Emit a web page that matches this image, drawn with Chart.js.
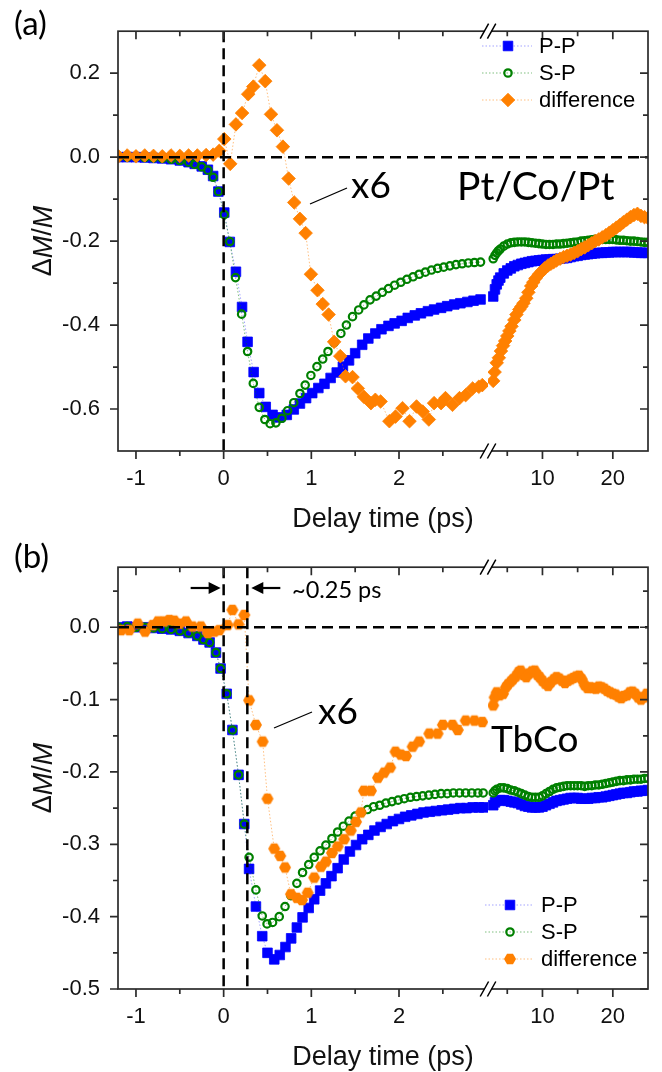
<!DOCTYPE html>
<html>
<head>
<meta charset="utf-8">
<script src="https://cdn.jsdelivr.net/npm/chart.js@4.4.1/dist/chart.umd.min.js"></script>
<style>
  html, body { margin: 0; padding: 0; background: #fff; }
  #wrap { position: relative; width: 662px; height: 1072px; }
  canvas { position: absolute; left: 0; }
  #cA { top: 0; }
  #cB { top: 536px; }
</style>
</head>
<body>
<div id="wrap">
  <canvas id="cA" width="662" height="536"></canvas>
  <canvas id="cB" width="662" height="536"></canvas>
</div>
<script>
// ---- axis ranges / ticks (broken x axis: fast part + slow part) ----
const xFastRange = [-1.205, 3.015];
const xSlowRange = [2.26, 25];
const xFastMajor = [-1, 0, 1, 2], xFastMinor = [-0.5, 0.5, 1.5, 2.5];
const xSlowMajor = [10, 20], xSlowMinor = [5, 15];
const aYMajor = [0.2, 0, -0.2, -0.4, -0.6], aYMinor = [0.1, -0.1, -0.3, -0.5];
const bYMajor = [0, -0.1, -0.2, -0.3, -0.4, -0.5], bYMinor = [0.05, -0.05, -0.15, -0.25, -0.35, -0.45];
const seriesNames = ['P-P', 'S-P', 'difference'];

// ---- (a) Pt/Co/Pt : [delay ps, dM/M] ----
const aPPfast = [[-1.2,0],[-1.1,0],[-1.0,0],[-0.9,-0.001],[-0.8,-0.002],[-0.7,-0.003],[-0.6,-0.005],[-0.5,-0.008],[-0.4,-0.012],[-0.33,-0.016],[-0.25,-0.022],[-0.18,-0.03],[-0.12,-0.045],[-0.06,-0.082],[0.007,-0.132],[0.07,-0.202],[0.14,-0.273],[0.21,-0.357],[0.273,-0.44],[0.342,-0.512],[0.406,-0.562],[0.48,-0.595],[0.558,-0.614],[0.634,-0.62],[0.72,-0.614],[0.80,-0.601],[0.87,-0.587],[0.94,-0.574],[1.01,-0.562],[1.08,-0.55],[1.15,-0.54],[1.22,-0.526],[1.29,-0.513],[1.36,-0.499],[1.43,-0.484],[1.50,-0.467],[1.58,-0.447],[1.65,-0.432],[1.73,-0.42],[1.80,-0.41],[1.88,-0.402],[1.95,-0.396],[2.03,-0.39],[2.10,-0.383],[2.18,-0.377],[2.25,-0.372],[2.33,-0.367],[2.40,-0.363],[2.48,-0.359],[2.55,-0.355],[2.63,-0.351],[2.70,-0.348],[2.78,-0.345],[2.85,-0.342],[2.93,-0.339]];
const aPPslow = [[3.0,-0.332],[3.25,-0.315],[3.5,-0.303],[3.75,-0.294],[4.0,-0.287],[4.5,-0.277],[5.0,-0.27],[5.5,-0.265],[6.0,-0.26],[6.5,-0.257],[7.0,-0.254],[7.5,-0.252],[8.0,-0.25],[8.5,-0.248],[9.0,-0.247],[9.5,-0.246],[10,-0.245],[10.5,-0.244],[11,-0.244],[11.5,-0.243],[12,-0.243],[12.5,-0.242],[13,-0.241],[13.5,-0.24],[14,-0.238],[14.5,-0.236],[15,-0.235],[15.5,-0.233],[16,-0.232],[16.5,-0.231],[17,-0.23],[17.5,-0.229],[18,-0.228],[18.5,-0.228],[19,-0.227],[19.5,-0.227],[20,-0.226],[20.5,-0.226],[21,-0.226],[21.5,-0.226],[22,-0.226],[22.5,-0.226],[23,-0.227],[23.5,-0.227],[24,-0.228],[24.5,-0.228],[25,-0.228]];
const aSPfast = [[-1.2,0],[-1.1,0],[-1.0,0],[-0.9,-0.001],[-0.8,-0.002],[-0.7,-0.003],[-0.6,-0.005],[-0.5,-0.008],[-0.4,-0.012],[-0.33,-0.017],[-0.25,-0.023],[-0.18,-0.031],[-0.12,-0.048],[-0.06,-0.082],[0.007,-0.137],[0.07,-0.201],[0.135,-0.287],[0.205,-0.374],[0.273,-0.463],[0.338,-0.539],[0.406,-0.596],[0.47,-0.625],[0.53,-0.635],[0.596,-0.633],[0.665,-0.622],[0.73,-0.604],[0.80,-0.585],[0.87,-0.563],[0.93,-0.543],[0.995,-0.52],[1.064,-0.499],[1.13,-0.481],[1.19,-0.463],[1.26,-0.442],[1.337,-0.42],[1.40,-0.40],[1.47,-0.38],[1.54,-0.364],[1.60,-0.352],[1.67,-0.34],[1.74,-0.331],[1.81,-0.322],[1.88,-0.313],[1.95,-0.305],[2.02,-0.298],[2.09,-0.291],[2.16,-0.285],[2.23,-0.279],[2.30,-0.274],[2.37,-0.269],[2.44,-0.265],[2.51,-0.262],[2.58,-0.259],[2.65,-0.256],[2.72,-0.254],[2.79,-0.252],[2.86,-0.251],[2.93,-0.25]];
const aSPslow = [[3.0,-0.242],[3.25,-0.234],[3.5,-0.228],[3.75,-0.223],[4.0,-0.219],[4.5,-0.212],[5.0,-0.207],[5.5,-0.204],[6.0,-0.203],[6.5,-0.202],[7.0,-0.202],[7.5,-0.202],[8.0,-0.203],[8.5,-0.204],[9.0,-0.205],[9.5,-0.206],[10,-0.207],[10.5,-0.208],[11,-0.208],[11.5,-0.208],[12,-0.207],[12.5,-0.207],[13,-0.206],[13.5,-0.205],[14,-0.204],[14.5,-0.203],[15,-0.202],[15.5,-0.2],[16,-0.199],[16.5,-0.198],[17,-0.197],[17.5,-0.196],[18,-0.196],[18.5,-0.196],[19,-0.196],[19.5,-0.196],[20,-0.196],[20.5,-0.197],[21,-0.198],[21.5,-0.198],[22,-0.199],[22.5,-0.2],[23,-0.2],[23.5,-0.201],[24,-0.202],[24.5,-0.203],[25,-0.203]];
const aDiffFast = [[-1.2,0.002],[-1.1,0.004],[-1.0,0.002],[-0.9,0.004],[-0.8,0.003],[-0.7,0.002],[-0.6,0.004],[-0.5,0.003],[-0.4,0.004],[-0.3,0.004],[-0.2,0.005],[-0.12,0.006],[-0.05,0.015],[0.007,0.043],[0.075,-0.016],[0.14,0.078],[0.21,0.105],[0.28,0.15],[0.338,0.168],[0.406,0.219],[0.474,0.181],[0.54,0.102],[0.608,0.064],[0.676,0.025],[0.741,-0.051],[0.805,-0.108],[0.87,-0.147],[0.935,-0.181],[0.995,-0.279],[1.07,-0.317],[1.13,-0.35],[1.197,-0.375],[1.26,-0.44],[1.33,-0.474],[1.39,-0.522],[1.47,-0.524],[1.53,-0.551],[1.60,-0.571],[1.68,-0.586],[1.73,-0.578],[1.79,-0.582],[1.89,-0.629],[1.96,-0.618],[2.04,-0.598],[2.12,-0.629],[2.20,-0.594],[2.27,-0.606],[2.34,-0.625],[2.40,-0.586],[2.48,-0.586],[2.53,-0.574],[2.61,-0.59],[2.69,-0.574],[2.76,-0.567],[2.84,-0.551],[2.91,-0.547],[2.95,-0.543]];
const aDiffSlow = [[3.0,-0.533],[3.2,-0.512],[3.5,-0.49],[3.8,-0.478],[4.1,-0.462],[4.4,-0.449],[4.7,-0.438],[5.0,-0.426],[5.3,-0.414],[5.6,-0.403],[6.0,-0.388],[6.3,-0.375],[6.7,-0.363],[7.0,-0.356],[7.3,-0.348],[7.7,-0.336],[8.0,-0.322],[8.4,-0.307],[8.7,-0.298],[9.0,-0.289],[9.5,-0.279],[9.9,-0.272],[10.3,-0.265],[10.8,-0.258],[11.2,-0.254],[11.6,-0.25],[12.0,-0.246],[12.5,-0.242],[13.0,-0.238],[13.5,-0.235],[14.0,-0.232],[14.5,-0.228],[15.0,-0.224],[15.5,-0.219],[16.0,-0.215],[16.5,-0.21],[17.0,-0.205],[17.5,-0.2],[18.0,-0.196],[18.5,-0.191],[19.0,-0.186],[19.5,-0.18],[20.0,-0.174],[20.5,-0.168],[21.0,-0.162],[21.5,-0.155],[22.0,-0.149],[22.5,-0.143],[23.0,-0.138],[23.5,-0.135],[24.0,-0.14],[24.5,-0.143],[25.0,-0.145]];

// ---- (b) TbCo ----
const bPPfast = [[-1.2,0],[-1.1,0.001],[-1.0,0],[-0.9,0],[-0.8,-0.001],[-0.7,-0.002],[-0.6,-0.003],[-0.5,-0.005],[-0.4,-0.008],[-0.3,-0.012],[-0.23,-0.017],[-0.16,-0.021],[-0.088,-0.035],[-0.035,-0.057],[0.035,-0.092],[0.10,-0.142],[0.17,-0.204],[0.235,-0.272],[0.29,-0.334],[0.368,-0.386],[0.44,-0.427],[0.50,-0.45],[0.577,-0.459],[0.64,-0.453],[0.705,-0.442],[0.77,-0.43],[0.835,-0.415],[0.90,-0.401],[0.97,-0.388],[1.033,-0.376],[1.10,-0.364],[1.166,-0.354],[1.23,-0.344],[1.30,-0.333],[1.37,-0.321],[1.44,-0.31],[1.51,-0.301],[1.58,-0.293],[1.65,-0.287],[1.72,-0.281],[1.79,-0.276],[1.86,-0.272],[1.93,-0.268],[2.00,-0.265],[2.07,-0.262],[2.14,-0.26],[2.21,-0.258],[2.28,-0.256],[2.35,-0.255],[2.42,-0.254],[2.49,-0.253],[2.56,-0.252],[2.63,-0.251],[2.70,-0.25],[2.77,-0.25],[2.84,-0.249],[2.91,-0.249],[2.97,-0.249]];
const bPPslow = [[3.0,-0.246],[3.25,-0.242],[3.5,-0.24],[4.0,-0.239],[4.5,-0.239],[5.0,-0.24],[5.5,-0.241],[6.0,-0.242],[6.5,-0.243],[7.0,-0.245],[7.5,-0.247],[8.0,-0.248],[8.5,-0.249],[9.0,-0.249],[9.5,-0.249],[10,-0.248],[10.5,-0.246],[11,-0.244],[11.5,-0.242],[12,-0.24],[12.5,-0.239],[13,-0.238],[13.5,-0.237],[14,-0.236],[14.5,-0.236],[15,-0.236],[15.5,-0.237],[16,-0.237],[16.5,-0.237],[17,-0.236],[17.5,-0.236],[18,-0.235],[18.5,-0.235],[19,-0.234],[19.5,-0.233],[20,-0.232],[20.5,-0.231],[21,-0.23],[21.5,-0.229],[22,-0.229],[22.5,-0.228],[23,-0.227],[23.5,-0.227],[24,-0.226],[24.5,-0.226],[25,-0.225]];
const bSPfast = [[-1.2,0],[-1.1,0.001],[-1.0,0],[-0.9,0],[-0.8,-0.001],[-0.7,-0.002],[-0.6,-0.003],[-0.5,-0.005],[-0.4,-0.008],[-0.3,-0.012],[-0.23,-0.017],[-0.16,-0.021],[-0.088,-0.035],[-0.035,-0.057],[0.035,-0.092],[0.10,-0.142],[0.17,-0.204],[0.235,-0.272],[0.29,-0.318],[0.368,-0.363],[0.44,-0.399],[0.495,-0.41],[0.558,-0.408],[0.634,-0.40],[0.70,-0.386],[0.767,-0.371],[0.835,-0.354],[0.90,-0.339],[0.97,-0.328],[1.033,-0.318],[1.10,-0.309],[1.166,-0.301],[1.235,-0.292],[1.30,-0.283],[1.365,-0.275],[1.43,-0.268],[1.50,-0.261],[1.57,-0.256],[1.64,-0.252],[1.71,-0.248],[1.78,-0.246],[1.85,-0.243],[1.92,-0.241],[1.99,-0.239],[2.06,-0.237],[2.13,-0.235],[2.20,-0.234],[2.27,-0.233],[2.34,-0.232],[2.41,-0.231],[2.48,-0.23],[2.55,-0.23],[2.62,-0.229],[2.69,-0.229],[2.76,-0.229],[2.83,-0.229],[2.90,-0.229],[2.96,-0.229]];
const bSPslow = [[3.0,-0.229],[3.25,-0.226],[3.5,-0.224],[4.0,-0.222],[4.5,-0.222],[5.0,-0.223],[5.5,-0.225],[6.0,-0.226],[6.5,-0.228],[7.0,-0.23],[7.5,-0.232],[8.0,-0.234],[8.5,-0.235],[9.0,-0.235],[9.5,-0.235],[10,-0.233],[10.5,-0.23],[11,-0.227],[11.5,-0.224],[12,-0.222],[12.5,-0.221],[13,-0.22],[13.5,-0.219],[14,-0.219],[14.5,-0.219],[15,-0.219],[15.5,-0.219],[16,-0.22],[16.5,-0.219],[17,-0.219],[17.5,-0.218],[18,-0.218],[18.5,-0.217],[19,-0.216],[19.5,-0.215],[20,-0.214],[20.5,-0.213],[21,-0.212],[21.5,-0.212],[22,-0.211],[22.5,-0.211],[23,-0.21],[23.5,-0.21],[24,-0.21],[24.5,-0.209],[25,-0.209]];
const bDiffFast = [[-1.17,-0.004],[-1.076,-0.004],[-0.98,0.005],[-0.897,-0.006],[-0.81,0.003],[-0.75,0.008],[-0.68,0.008],[-0.62,0.01],[-0.563,0.009],[-0.506,0.005],[-0.43,0.008],[-0.354,0.001],[-0.26,0.001],[-0.18,-0.008],[-0.107,-0.006],[-0.05,-0.004],[0.045,0.003],[0.10,0.024],[0.17,0.004],[0.235,0.017],[0.29,-0.101],[0.368,-0.135],[0.445,-0.158],[0.50,-0.237],[0.577,-0.306],[0.645,-0.316],[0.70,-0.332],[0.767,-0.369],[0.835,-0.374],[0.893,-0.377],[0.958,-0.367],[1.033,-0.346],[1.11,-0.331],[1.166,-0.324],[1.235,-0.312],[1.30,-0.303],[1.375,-0.293],[1.45,-0.281],[1.51,-0.269],[1.565,-0.256],[1.60,-0.226],[1.68,-0.226],[1.76,-0.208],[1.83,-0.201],[1.90,-0.194],[1.96,-0.172],[2.02,-0.176],[2.08,-0.178],[2.155,-0.165],[2.23,-0.158],[2.345,-0.147],[2.44,-0.147],[2.50,-0.135],[2.61,-0.135],[2.67,-0.142],[2.76,-0.129],[2.86,-0.129],[2.95,-0.131]];
const bDiffSlow = [[3.0,-0.108],[3.2,-0.097],[3.5,-0.09],[3.9,-0.094],[4.4,-0.092],[4.8,-0.083],[5.1,-0.079],[5.5,-0.075],[5.8,-0.072],[6.2,-0.068],[6.6,-0.062],[6.9,-0.06],[7.3,-0.066],[7.7,-0.069],[8.1,-0.064],[8.5,-0.061],[8.9,-0.06],[9.3,-0.066],[9.6,-0.069],[10.0,-0.074],[10.4,-0.078],[10.8,-0.081],[11.2,-0.076],[11.6,-0.072],[12.0,-0.069],[12.4,-0.071],[12.8,-0.074],[13.2,-0.077],[13.6,-0.074],[14.0,-0.072],[14.4,-0.07],[14.8,-0.068],[15.2,-0.067],[15.6,-0.072],[16.0,-0.08],[16.4,-0.084],[16.8,-0.083],[17.2,-0.084],[17.6,-0.085],[18.0,-0.082],[18.4,-0.083],[18.8,-0.085],[19.2,-0.088],[19.6,-0.09],[20.0,-0.092],[20.4,-0.093],[20.8,-0.096],[21.2,-0.098],[21.6,-0.095],[22.0,-0.094],[22.4,-0.09],[22.8,-0.089],[23.2,-0.092],[23.6,-0.097],[24.0,-0.1],[24.4,-0.097],[24.8,-0.092]];

// ---- styles ----
const BLUE = '#0000ff', GREEN = '#008000', ORANGE = '#ff8000';
const SANS = '"Liberation Sans", Arial, sans-serif';
const CAL = 'Lato, "Open Sans", sans-serif';
Chart.defaults.font.family = SANS;
Chart.defaults.font.size = 22;
Chart.defaults.color = '#111';

function hexagon(r, color) {
  const c = document.createElement('canvas');
  c.width = c.height = Math.ceil(2 * r + 2);
  const g = c.getContext('2d'), m = c.width / 2;
  g.fillStyle = color;
  g.beginPath();
  for (let i = 0; i < 6; i++) {
    const t = i * Math.PI / 3;
    g.lineTo(m + r * Math.cos(t), m + r * Math.sin(t));
  }
  g.closePath();
  g.fill();
  return c;
}

const stPP = { style: 'rect', r: 6.8, fill: BLUE, edge: BLUE, bw: 0.8, line: 'rgba(90,90,255,0.55)' };
const stSP = { style: 'circle', r: 3.7, fill: 'rgba(0,0,0,0)', edge: GREEN, bw: 2.2, line: 'rgba(0,128,0,0.5)' };
const stDia = { style: 'rectRot', r: 6.8, fill: ORANGE, edge: ORANGE, bw: 0.8, line: 'rgba(255,128,0,0.5)' };
const stHex = { style: hexagon(6, ORANGE), r: 5.5, fill: ORANGE, edge: ORANGE, bw: 0, line: 'rgba(255,128,0,0.5)' };

const pts = arr => arr.map(p => ({ x: p[0], y: p[1] }));

function marker(ctx, st, x, y) {
  ctx.save();
  if (typeof st.style !== 'string') {
    ctx.drawImage(st.style, x - st.style.width / 2, y - st.style.height / 2);
    ctx.restore();
    return;
  }
  ctx.fillStyle = st.fill; ctx.strokeStyle = st.edge; ctx.lineWidth = st.bw;
  ctx.beginPath();
  if (st.style === 'rect') {
    const h = st.r * Math.SQRT1_2;
    ctx.rect(x - h, y - h, 2 * h, 2 * h);
  } else if (st.style === 'circle') {
    ctx.arc(x, y, st.r, 0, 2 * Math.PI);
  } else {
    ctx.moveTo(x, y - st.r); ctx.lineTo(x + st.r, y); ctx.lineTo(x, y + st.r); ctx.lineTo(x - st.r, y); ctx.closePath();
  }
  ctx.fill();
  if (st.bw) ctx.stroke();
  ctx.restore();
}

function text(ctx, s, x, y, font, base) {
  ctx.font = font; ctx.fillStyle = '#000'; ctx.textAlign = 'left'; ctx.textBaseline = base || 'alphabetic';
  ctx.fillText(s, x, y);
}

function line(ctx, x1, y1, x2, y2, w) {
  ctx.save(); ctx.strokeStyle = '#000'; ctx.lineWidth = w || 1.3;
  ctx.beginPath(); ctx.moveTo(x1, y1); ctx.lineTo(x2, y2); ctx.stroke(); ctx.restore();
}

function yTitle(ctx, cx, cy) {
  const parts = [['\u0394', ''], ['M', 'italic '], ['/', ''], ['M', 'italic ']];
  const f = s => s + '27px ' + SANS;
  let w = 0;
  parts.forEach(([t, s]) => { ctx.font = f(s); w += ctx.measureText(t).width; });
  ctx.save();
  ctx.translate(cx, cy); ctx.rotate(-Math.PI / 2);
  ctx.textBaseline = 'middle'; ctx.textAlign = 'left'; ctx.fillStyle = '#111';
  let x = -w / 2;
  parts.forEach(([t, s]) => { ctx.font = f(s); ctx.fillText(t, x, 0); x += ctx.measureText(t).width; });
  ctx.restore();
}

function decor(p) {
  return {
    id: 'decor',
    afterDatasetsDraw(chart) {
      const ctx = chart.ctx, a = chart.chartArea;
      const xs = chart.scales.x, xl = chart.scales.x2, ys = chart.scales.y;
      ctx.save();

      // dashed guides
      ctx.strokeStyle = '#000'; ctx.lineWidth = 2.5; ctx.setLineDash([11, 6]);
      ctx.beginPath();
      const y0 = ys.getPixelForValue(0);
      ctx.moveTo(a.left, y0); ctx.lineTo(a.right, y0);
      p.guides.forEach(v => {
        const gx = xs.getPixelForValue(v);
        ctx.moveTo(gx, a.top); ctx.lineTo(gx, a.bottom);
      });
      ctx.stroke();
      ctx.setLineDash([]);

      // frame and ticks
      ctx.strokeStyle = '#2b2b2b'; ctx.lineWidth = 1.7;
      ctx.strokeRect(a.left, a.top, a.right - a.left, a.bottom - a.top);
      ctx.beginPath();
      [[xs, xFastMajor, 8], [xs, xFastMinor, 5], [xl, xSlowMajor, 8], [xl, xSlowMinor, 5]].forEach(([s, vals, len]) => {
        vals.forEach(v => {
          const px = s.getPixelForValue(v);
          ctx.moveTo(px, a.bottom); ctx.lineTo(px, a.bottom + len);
          ctx.moveTo(px, a.top); ctx.lineTo(px, a.top + len);
        });
      });
      [[p.yMajor, 8], [p.yMinor, 5]].forEach(([vals, len]) => {
        vals.forEach(v => {
          const py = ys.getPixelForValue(v);
          ctx.moveTo(a.left - len, py); ctx.lineTo(a.left, py);
          ctx.moveTo(a.right - len, py); ctx.lineTo(a.right, py);
        });
      });
      ctx.stroke();

      // axis break marks
      const bx = xs.right;
      [a.top, a.bottom].forEach(by => {
        ctx.fillStyle = '#fff';
        ctx.fillRect(bx - 3.5, by - 2.5, 7, 5);
        ctx.strokeStyle = '#000'; ctx.lineWidth = 1.5;
        ctx.beginPath();
        [-3.6, 3.6].forEach(c => { ctx.moveTo(bx + c - 4.2, by + 7.5); ctx.lineTo(bx + c + 4.2, by - 7.5); });
        ctx.stroke();
      });

      // legend
      const L = p.legend;
      p.styles.forEach((st, i) => {
        const ly = L.y + i * L.dy;
        ctx.save();
        ctx.strokeStyle = st.line; ctx.lineWidth = 1; ctx.setLineDash([1.5, 2]);
        ctx.beginPath(); ctx.moveTo(L.x0, ly); ctx.lineTo(L.x1, ly); ctx.stroke();
        ctx.restore();
        marker(ctx, st, L.xm, ly);
        text(ctx, seriesNames[i], L.xt, ly + 1, '22px ' + SANS, 'middle');
      });

      // axis titles
      ctx.font = '27px ' + SANS; ctx.fillStyle = '#111'; ctx.textAlign = 'center'; ctx.textBaseline = 'alphabetic';
      ctx.fillText('Delay time (ps)', (a.left + a.right) / 2, a.bottom + 76);
      yTitle(ctx, 44, (a.top + a.bottom) / 2);

      p.notes(ctx, xs, ys);
      ctx.restore();
    }
  };
}

function xScale(range, major, weight, h) {
  return {
    type: 'linear', position: 'bottom', min: range[0], max: range[1],
    stack: 'delay', stackWeight: weight,
    grid: { display: false, drawTicks: false }, border: { display: false },
    ticks: { padding: 15, autoSkip: false, maxRotation: 0, callback: v => String(v) },
    afterBuildTicks: s => { s.ticks = major.map(v => ({ value: v })); },
    afterFit: s => { s.height = h; }
  };
}

function buildChart(id, p) {
  const ds = [];
  p.series.forEach(([fast, slow, st], k) => {
    [[fast, 'x'], [slow, 'x2']].forEach(([arr, ax]) => ds.push({
      label: seriesNames[k], data: pts(arr), xAxisID: ax, yAxisID: 'y', order: 3 - k,
      showLine: true, borderColor: st.line, borderWidth: 1, borderDash: [1.5, 2],
      pointStyle: st.style, pointRadius: st.r, pointBackgroundColor: st.fill,
      pointBorderColor: st.edge, pointBorderWidth: st.bw
    }));
  });
  return new Chart(document.getElementById(id), {
    type: 'line',
    data: { datasets: ds },
    options: {
      responsive: false, animation: false, devicePixelRatio: 1,
      layout: { padding: { top: p.top, right: 14, left: 0, bottom: 0 } },
      plugins: { legend: { display: false }, tooltip: { enabled: false } },
      scales: {
        x: xScale(xFastRange, xFastMajor, 370, p.axisH),
        x2: xScale(xSlowRange, xSlowMajor, 160, p.axisH),
        y: {
          min: p.yRange[0], max: p.yRange[1],
          grid: { display: false, drawTicks: false }, border: { display: false },
          ticks: { padding: 18, callback: v => Number(v).toFixed(1) },
          afterBuildTicks: s => { s.ticks = p.yMajor.map(v => ({ value: v })); },
          afterFit: s => { s.width = 118; }
        }
      }
    },
    plugins: [decor(p)]
  });
}

// ---- panel (a) ----
buildChart('cA', {
  top: 24, axisH: 85, yRange: [-0.7, 0.3], yMajor: aYMajor, yMinor: aYMinor,
  guides: [0],
  series: [[aPPfast, aPPslow, stPP], [aSPfast, aSPslow, stSP], [aDiffFast, aDiffSlow, stDia]],
  styles: [stPP, stSP, stDia],
  legend: { x0: 482, x1: 532, xm: 508, xt: 539, y: 46, dy: 27 },
  notes(ctx) {
    text(ctx, '(a)', 14, 24, '33px ' + CAL, 'middle');
    line(ctx, 310, 204, 347, 188);
    text(ctx, 'x6', 351, 186, '37px ' + CAL, 'middle');
    text(ctx, 'Pt/Co/Pt', 457, 200, '39px ' + CAL);
  }
});

// ---- panel (b) ----
buildChart('cB', {
  top: 26, axisH: 83, yRange: [-0.5, 0.083], yMajor: bYMajor, yMinor: bYMinor,
  guides: [0, 0.27],
  series: [[bPPfast, bPPslow, stPP], [bSPfast, bSPslow, stSP], [bDiffFast, bDiffSlow, stHex]],
  styles: [stPP, stSP, stHex],
  legend: { x0: 485, x1: 533, xm: 510, xt: 541, y: 369, dy: 27 },
  notes(ctx, xs) {
    text(ctx, '(b)', 14, 21, '33px ' + CAL, 'middle');
    const ay = 52, g0 = xs.getPixelForValue(0), g1 = xs.getPixelForValue(0.27);
    ctx.save(); ctx.fillStyle = '#000';
    line(ctx, g0 - 33, ay, g0 - 14, ay, 2.2);
    ctx.beginPath(); ctx.moveTo(g0 - 3, ay); ctx.lineTo(g0 - 15, ay - 6); ctx.lineTo(g0 - 15, ay + 6); ctx.closePath(); ctx.fill();
    line(ctx, g1 + 14, ay, g1 + 33, ay, 2.2);
    ctx.beginPath(); ctx.moveTo(g1 + 4, ay); ctx.lineTo(g1 + 16, ay - 6); ctx.lineTo(g1 + 16, ay + 6); ctx.closePath(); ctx.fill();
    ctx.restore();
    text(ctx, '~0.25 ps', 292, 62, '23.5px ' + CAL);
    line(ctx, 274, 192, 312, 176);
    text(ctx, 'x6', 318, 176, '37px ' + CAL, 'middle');
    text(ctx, 'TbCo', 491, 216, '37px ' + CAL);
  }
});
</script>
</body>
</html>
